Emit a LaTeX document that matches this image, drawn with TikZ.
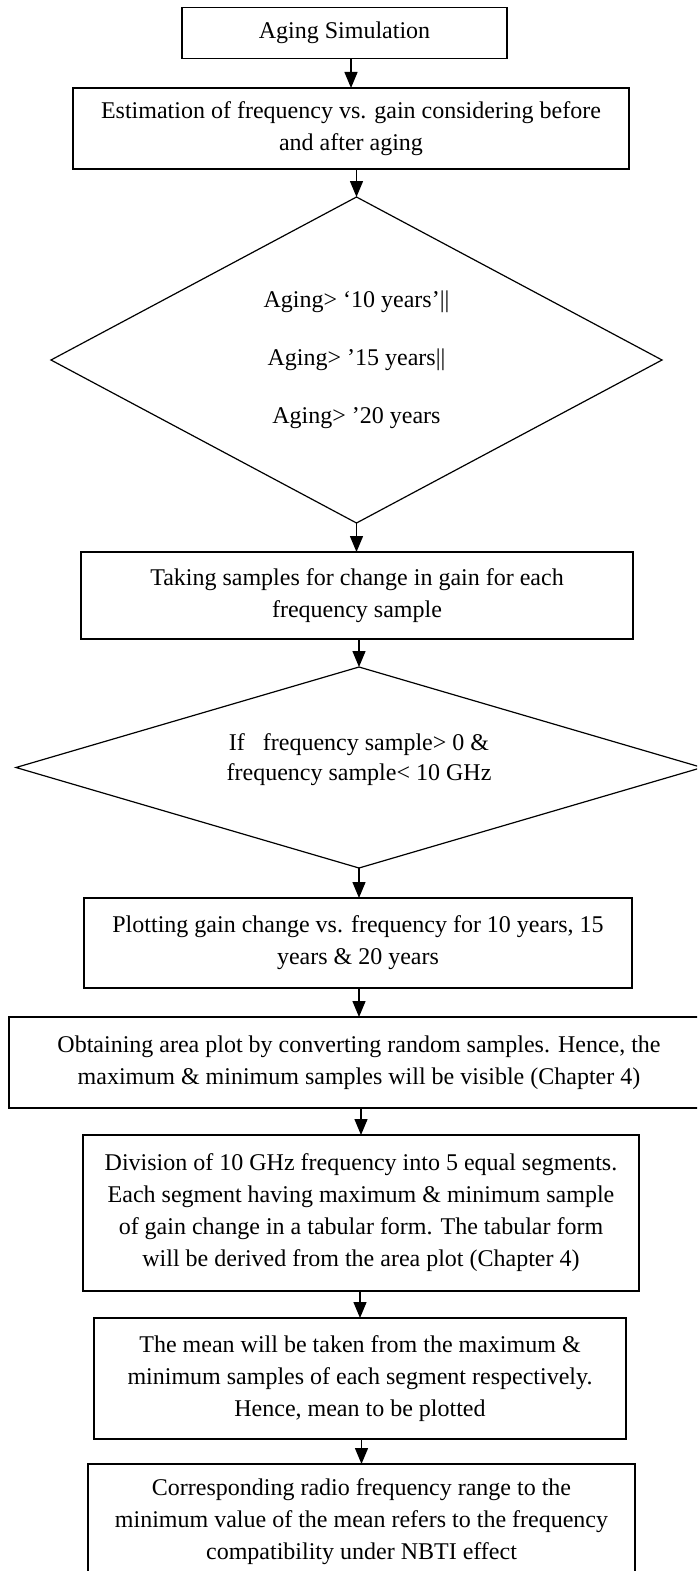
\documentclass[tikz,border=0pt]{standalone}
\usepackage{fontspec}
\setmainfont{Liberation Serif}
\usetikzlibrary{arrows.meta}
\usetikzlibrary{shapes.geometric}
\tikzset{>=latex}
\tikzstyle{process}=[rectangle,draw=black,line width=1.4,inner sep=0,outer sep=0,
                     align=center,font=\fontsize{24}{32}\selectfont]
\tikzstyle{decision}=[diamond,draw=black,line width=1.2,inner sep=0,outer sep=0,
                      align=center,font=\fontsize{24}{32}\selectfont]
\tikzstyle{flow}=[-{Triangle[length=16pt,width=13pt]},black,line width=1.4]

\begin{document}
\begin{tikzpicture}[x=1pt,y=-1pt]

        % FRAME (picture is cut at the right and bottom)
        \useasboundingbox (0,0) rectangle (697,1571);
        \clip (0,0) rectangle (697,1571);

        % BOXES
        \node[process, minimum width=325, minimum height=51] (aging) at (344.5,33)
            {Aging Simulation};
        \node[process, minimum width=556, minimum height=81] (estim) at (351,128.5)
            {Estimation of frequency vs. gain considering before\\and after aging};
        \node[decision, shape aspect=1.87, minimum width=611, minimum height=326] (agecheck) at (356.5,360)
            {Aging> ‘10 years’||\\[26pt]Aging> ’15 years||\\[26pt]Aging> ’20 years};
        \node[process, minimum width=552, minimum height=87] (samples) at (357,595.5)
            {Taking samples for change in gain for each\\frequency sample};
        \node[decision, shape aspect=3.41, minimum width=686, minimum height=201] (freqcheck) at (359,767.5)
            {If\ \ \ frequency sample> 0 \&\\[-2pt]frequency sample< 10 GHz\\[-12pt]\mbox{}};
        \node[process, minimum width=548, minimum height=90] (plotting) at (358,943)
            {Plotting gain change vs. frequency for 10 years, 15\\years \& 20 years};
        \node[process, minimum width=700, minimum height=91] (areaplot) at (359,1062.5)
            {Obtaining area plot by converting random samples. Hence, the\\maximum \& minimum samples will be visible (Chapter 4)};
        \node[process, minimum width=556, minimum height=156] (division) at (361,1213)
            {Division of 10 GHz frequency into 5 equal segments.\\Each segment having maximum \& minimum sample\\of gain change in a tabular form. The tabular form\\will be derived from the area plot (Chapter 4)};
        \node[process, minimum width=532, minimum height=121] (mean) at (360,1378.5)
            {The mean will be taken from the maximum \&\\minimum samples of each segment respectively.\\Hence, mean to be plotted};
        \node[process, minimum width=547, minimum height=116] (result) at (361.5,1522)
            {Corresponding radio frequency range to the\\minimum value of the mean refers to the frequency\\compatibility under NBTI effect};

        % FLOW
        \draw[flow] (aging.south -| estim.north) -- (estim.north);
        \draw[flow] (estim.south -| agecheck.north) -- (agecheck.north);
        \draw[flow] (agecheck.south) -- (agecheck.south |- samples.north);
        \draw[flow] (samples.south -| freqcheck.north) -- (freqcheck.north);
        \draw[flow] (freqcheck.south) -- (freqcheck.south |- plotting.north);
        \draw[flow] (plotting.south -| areaplot.north) -- (areaplot.north);
        \draw[flow] (areaplot.south -| division.north) -- (division.north);
        \draw[flow] (division.south -| mean.north) -- (mean.north);
        \draw[flow] (mean.south -| result.north) -- (result.north);

\end{tikzpicture}
\end{document}
